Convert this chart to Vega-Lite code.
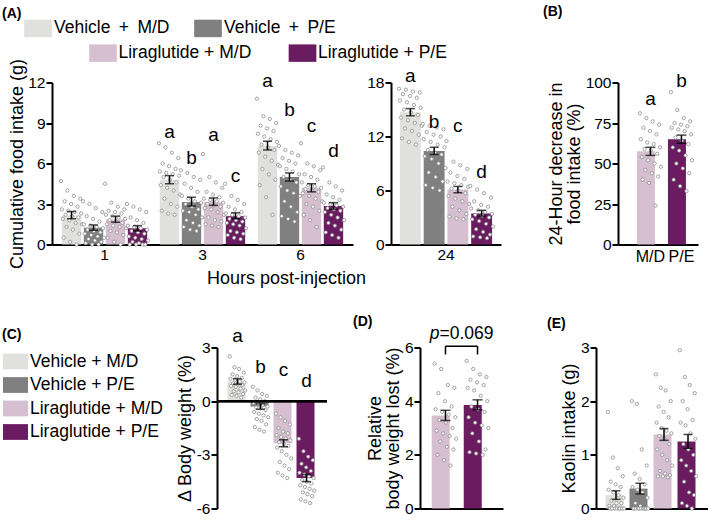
{
  "$schema": "https://vega.github.io/schema/vega-lite/v6.json",
  "padding": {"left": 2, "top": 4.5, "right": 0, "bottom": 0},
  "background": "white",
  "config": {
    "font": "Liberation Sans",
    "view": {"stroke": null},
    "axis": {"domainColor": "black", "domainWidth": 2, "tickColor": "black", "tickWidth": 2, "tickSize": 6, "labelFontSize": 15.5, "labelColor": "black", "labelPadding": 1, "titleFontSize": 18, "titleFontWeight": "normal", "titleColor": "black", "grid": false},
    "axisX": {"ticks": false, "labelAngle": 0, "labelPadding": 3},
    "legend": {"labelFontSize": 17.5, "labelColor": "black", "symbolStrokeWidth": 0, "padding": 0, "symbolOpacity": 1, "symbolType": "M-1,-0.63H1V0.63H-1Z", "title": null},
    "title": {"fontSize": 14, "fontWeight": "bold", "anchor": "start", "frame": "group", "color": "black"}
  },
  "datasets": {
    "a1": [
      {"h": "1", "g": "Vehicle + M/D", "m": 2.15, "lo": 1.9, "hi": 2.45, "lab": "", "ly": 0, "v": [4.7,2.6,1.9,0.5,3.2,2.2,1.3,4.0,2.5,1.8,0.2,3.0,2.1,1.1,3.6,2.4,1.6,0,2.8,2.0,0.8,3.4,2.3,1.5]},
      {"h": "1", "g": "Vehicle + P/E", "m": 1.25, "lo": 1.05, "hi": 1.45, "lab": "", "ly": 0, "v": [3.2,1.5,0.8,0.1,2.1,1.1,0.4,3.0,1.4,0.7,0,1.9,1.0,0.3,2.7,1.3,0.6,0,1.7,0.9,0.2,2.4,1.2,0.5]},
      {"h": "1", "g": "Liraglutide + M/D", "m": 1.85, "lo": 1.65, "hi": 2.1, "lab": "", "ly": 0, "v": [4.5,2.2,1.5,0.5,2.5,1.8,1.0,3.1,2.1,1.4,0.2,2.4,1.7,0.9,2.8,2.0,1.3,0,2.3,1.6,0.7,2.6,1.9,1.2]},
      {"h": "1", "g": "Liraglutide + P/E", "m": 1.2, "lo": 1.0, "hi": 1.4, "lab": "", "ly": 0, "v": [3.0,1.4,0.6,0,2.0,1.0,0.2,2.8,1.3,0.5,0,1.8,0.9,0.1,2.6,1.2,0.4,0,1.6,0.8,0,2.4,1.1,0.3]},
      {"h": "3", "g": "Vehicle + M/D", "m": 4.8, "lo": 4.5, "hi": 5.1, "lab": "a", "ly": 7.9, "v": [7.5,5.4,4.4,2.5,6.0,5.0,3.4,7.2,5.3,4.2,2.3,5.8,4.8,3.0,6.8,5.2,4.0,2.2,5.6,4.6,2.8,6.4,5.1,3.7]},
      {"h": "3", "g": "Vehicle + P/E", "m": 3.15, "lo": 2.85, "hi": 3.5, "lab": "b", "ly": 6.0, "v": [5.5,3.6,2.5,1.3,4.5,3.0,1.8,5.3,3.4,2.4,1.1,4.2,2.8,1.6,5.0,3.2,2.2,1.0,3.9,2.6,1.4,4.8,3.1,2.0]},
      {"h": "3", "g": "Liraglutide + M/D", "m": 3.15, "lo": 2.9, "hi": 3.45, "lab": "a", "ly": 7.7, "v": [6.7,3.4,2.7,1.5,3.9,3.0,2.0,5.0,3.3,2.6,1.4,3.7,2.9,1.8,4.6,3.2,2.4,1.3,3.5,2.8,1.7,4.2,3.1,2.2]},
      {"h": "3", "g": "Liraglutide + P/E", "m": 2.1, "lo": 1.9, "hi": 2.35, "lab": "c", "ly": 4.6, "v": [4.5,2.3,1.6,0.7,2.8,1.9,1.0,3.6,2.2,1.5,0.5,2.6,1.8,0.9,3.3,2.1,1.4,0.4,2.4,1.7,0.8,3.0,2.0,1.2]},
      {"h": "6", "g": "Vehicle + M/D", "m": 7.3, "lo": 7.0, "hi": 7.65, "lab": "a", "ly": 11.7, "v": [10.8,8.2,6.8,4.4,8.8,7.4,5.6,9.5,8.0,6.5,3.5,8.6,7.2,5.2,9.3,7.8,6.2,2.2,8.4,7.0,4.8,9.0,7.6,5.9]},
      {"h": "6", "g": "Vehicle + P/E", "m": 5.0, "lo": 4.7, "hi": 5.3, "lab": "b", "ly": 9.55, "v": [7.3,5.8,4.3,2.1,6.4,5.0,3.2,7.0,5.6,4.0,1.9,6.2,4.8,2.8,6.8,5.4,3.8,1.7,6.0,4.6,2.4,6.6,5.2,3.6]},
      {"h": "6", "g": "Liraglutide + M/D", "m": 4.2, "lo": 3.9, "hi": 4.5, "lab": "c", "ly": 8.3, "v": [7.5,4.6,3.8,2.2,5.2,4.1,3.0,6.0,4.4,3.6,1.8,5.0,4.0,2.8,5.8,4.3,3.4,1.3,4.8,3.9,2.5,5.5,4.2,3.2]},
      {"h": "6", "g": "Liraglutide + P/E", "m": 2.85, "lo": 2.6, "hi": 3.1, "lab": "d", "ly": 6.45, "v": [5.7,3.1,2.4,0.9,3.7,2.7,1.6,4.6,3.0,2.2,0.7,3.5,2.6,1.4,4.3,2.9,2.0,0.5,3.3,2.5,1.1,4.0,2.8,1.8]}
    ],
    "a24": [
      {"h": "24", "g": "Vehicle + M/D", "m": 14.7, "lo": 14.3, "hi": 15.1, "lab": "a", "ly": 18.1, "v": [17.3,16.0,14.1,11.8,16.7,15.0,12.9,17.2,15.8,13.8,11.4,16.5,14.7,12.6,17.0,15.5,13.5,11.1,16.3,14.4,12.2,16.9,15.2,13.2]},
      {"h": "24", "g": "Vehicle + P/E", "m": 10.4, "lo": 10.0, "hi": 10.8, "lab": "b", "ly": 13.0, "v": [13.4,11.7,9.8,6.6,12.5,10.5,8.0,13.2,11.4,9.5,6.3,12.2,10.2,7.5,13.0,11.1,9.0,6.0,12.0,10.0,7.0,12.8,10.8,8.5]},
      {"h": "24", "g": "Liraglutide + M/D", "m": 6.1, "lo": 5.75, "hi": 6.45, "lab": "c", "ly": 12.5, "v": [11.5,7.0,5.4,3.1,8.0,6.2,4.2,9.2,6.8,5.1,2.9,7.6,6.0,3.8,8.8,6.6,4.8,2.8,7.3,5.7,3.4,8.4,6.4,4.5]},
      {"h": "24", "g": "Liraglutide + P/E", "m": 3.45, "lo": 3.15, "hi": 3.8, "lab": "d", "ly": 7.4, "v": [6.5,4.0,2.8,0.9,4.8,3.3,1.7,6.1,3.8,2.6,0.8,4.4,3.2,1.4,5.7,3.6,2.3,0.7,4.2,3.0,1.1,5.2,3.4,2.0]}
    ],
    "b": [
      {"g": "Liraglutide + M/D", "m": 57.5, "lo": 55, "hi": 60, "lab": "a", "ly": 86, "v": [81,65,54,40,72,59,46,78,63,52,38,70,58,44,76,62,50,24,68,56,42,74,60,48]},
      {"g": "Liraglutide + P/E", "m": 65, "lo": 62.5, "hi": 67.5, "lab": "b", "ly": 97, "v": [94,72,60,40,75,66,50,83,71,58,36,74,64,47,78,70,55,33,73,62,44,76,68,52]}
    ],
    "c": [
      {"g": "Vehicle + M/D", "m": 1.1, "lo": 0.95, "hi": 1.25, "lab": "a", "ly": 3.3, "v": [2.5,1.25,0.85,0.35,1.5,1.0,0.55,1.9,1.2,0.8,0.3,1.4,0.95,0.5,1.8,1.1,0.7,0.2,1.3,0.9,0.4,1.6,1.05,0.6]},
      {"g": "Vehicle + P/E", "m": -0.3, "lo": -0.45, "hi": -0.15, "lab": "b", "ly": 1.6, "v": [0.8,-0.1,-0.6,-1.45,0.2,-0.35,-1.0,0.6,-0.15,-0.7,-1.6,0.1,-0.4,-1.1,0.4,-0.2,-0.8,-1.7,0,-0.5,-1.3,0.3,-0.3,-0.9]},
      {"g": "Liraglutide + M/D", "m": -2.35, "lo": -2.55, "hi": -2.15, "lab": "c", "ly": 1.4, "v": [-0.7,-1.9,-2.6,-4.0,-1.5,-2.3,-3.4,-0.9,-2.0,-2.8,-4.15,-1.7,-2.4,-3.6,-1.1,-2.1,-3.0,-4.3,-1.8,-2.5,-3.8,-1.3,-2.2,-3.2]},
      {"g": "Liraglutide + P/E", "m": -4.3, "lo": -4.5, "hi": -4.1, "lab": "d", "ly": 0.8, "v": [-2.1,-4.0,-4.7,-5.5,-3.5,-4.4,-5.1,-2.8,-4.1,-4.8,-5.6,-3.7,-4.5,-5.2,-3.1,-4.2,-4.9,-5.7,-3.9,-4.6,-5.3,-3.3,-4.3,-5.0]}
    ],
    "d": [
      {"g": "Liraglutide + M/D", "m": 3.47, "lo": 3.28, "hi": 3.66, "v": [5.4,3.7,2.9,2.0,4.3,3.3,2.5,5.2,3.6,2.8,1.8,4.0,3.2,2.3,4.6,3.5,2.7,1.6,3.8,3.0,2.2,4.5,3.4,2.6]},
      {"g": "Liraglutide + P/E", "m": 3.86, "lo": 3.68, "hi": 4.05, "v": [5.5,4.5,3.4,2.1,4.8,3.8,2.8,5.2,4.4,3.2,2.05,4.7,3.7,2.5,5.0,4.2,3.1,2.0,4.6,3.6,2.2,4.9,4.0,3.0]}
    ],
    "dp": [
      {"g1": "Liraglutide + M/D", "g2": "Liraglutide + P/E", "p": "=0.069"}
    ],
    "e": [
      {"g": "Vehicle + M/D", "m": 0.25, "lo": 0.17, "hi": 0.33, "v": [1.8,0.35,0.05,0,0.5,0.15,0,0.95,0.3,0.05,0,0.45,0.1,0,0.75,0.25,0,0,0.4,0.1,0,0.6,0.2,0]},
      {"g": "Vehicle + P/E", "m": 0.37, "lo": 0.27, "hi": 0.47, "v": [2.0,0.4,0,0,0.65,0.1,0,1.95,0.35,0,0,0.55,0.05,0,1.1,0.3,0,0,0.45,0,0,0.8,0.2,0]},
      {"g": "Liraglutide + M/D", "m": 1.38, "lo": 1.27, "hi": 1.49, "v": [2.5,1.6,1.1,0.6,1.9,1.35,0.7,2.25,1.5,1.0,0.6,1.8,1.3,0.65,2.2,1.45,0.9,0.58,1.7,1.2,0.62,2.0,1.4,0.8]},
      {"g": "Liraglutide + P/E", "m": 1.25, "lo": 1.12, "hi": 1.38, "v": [2.95,1.6,0.9,0.1,2.0,1.2,0.5,2.45,1.55,0.8,0.05,1.85,1.1,0.3,2.3,1.4,0.7,0,1.65,1.0,0.25,2.15,1.3,0.6]}
    ]
  },
  "resolve": {"scale": {"color": "independent", "xOffset": "independent"}, "legend": {"color": "independent"}},
  "spacing": 27,
  "vconcat": [
    {
      "hconcat": [
        {
          "width": 301, "height": 162,
          "data": {"name": "a1"},
          "title": {"text": "(A)", "dx": -50, "offset": -6.5},
          "resolve": {"scale": {"xOffset": "independent"}},
          "layer": [
            {
              "mark": {"type": "bar"},
              "encoding": {
                "x": {"field": "h", "type": "nominal", "scale": {"paddingInner": 0.102, "paddingOuter": 0.087}, "axis": {"title": "Hours post-injection", "titleX": 234, "titlePadding": 6}},
                "xOffset": {"field": "g", "type": "nominal", "sort": ["Vehicle + M/D", "Vehicle + P/E", "Liraglutide + M/D", "Liraglutide + P/E"], "scale": {"paddingInner": 0.12, "paddingOuter": 0.06}},
                "y": {"field": "m", "type": "quantitative", "scale": {"domain": [0, 12]}, "axis": {"values": [0, 3, 6, 9, 12], "title": "Cumulative food intake (g)", "titlePadding": 1}},
                "color": {"field": "g", "type": "nominal", "scale": {"domain": ["Vehicle + M/D", "Vehicle + P/E", "Liraglutide + M/D", "Liraglutide + P/E"], "range": ["#e0e0de", "#808080", "#d5bfd1", "#6b1c61"]},
                  "legend": {"values": ["Vehicle + M/D", "Vehicle + P/E"], "labelExpr": "replace(datum.label, ' + ', ' \u2009+\u2009 ')", "orient": "none", "legendX": -28, "legendY": -68.2, "direction": "horizontal", "columns": 2, "columnPadding": 24, "symbolSize": 767, "labelOffset": 2}}
              }
            },
            {
              "transform": [{"flatten": ["v"]}, {"window": [{"op": "row_number", "as": "i"}], "groupby": ["h"]}],
              "mark": {"type": "circle", "size": 11, "fill": "white", "stroke": "#808080", "strokeWidth": 0.7, "opacity": 1},
              "encoding": {
                "x": {"field": "h", "type": "nominal"},
                "xOffset": {"field": "i", "type": "quantitative", "scale": {"domain": [0.5, 96.5], "range": [0, 88]}},
                "y": {"field": "v", "type": "quantitative"}
              }
            },
            {
              "layer": [
                {
                  "mark": {"type": "rule", "strokeWidth": 1.5, "color": "black"},
                  "encoding": {
                    "x": {"field": "h", "type": "nominal"},
                    "xOffset": {"field": "g", "type": "nominal", "sort": ["Vehicle + M/D", "Vehicle + P/E", "Liraglutide + M/D", "Liraglutide + P/E"], "scale": {"paddingInner": 0.12, "paddingOuter": 0.06}},
                    "y": {"field": "lo", "type": "quantitative"},
                    "y2": {"field": "hi"}
                  }
                },
                {
                  "mark": {"type": "tick", "thickness": 1.5, "size": 9, "color": "black"},
                  "encoding": {
                    "x": {"field": "h", "type": "nominal"},
                    "xOffset": {"field": "g", "type": "nominal", "sort": ["Vehicle + M/D", "Vehicle + P/E", "Liraglutide + M/D", "Liraglutide + P/E"]},
                    "y": {"field": "lo", "type": "quantitative"}
                  }
                },
                {
                  "mark": {"type": "tick", "thickness": 1.5, "size": 9, "color": "black"},
                  "encoding": {
                    "x": {"field": "h", "type": "nominal"},
                    "xOffset": {"field": "g", "type": "nominal", "sort": ["Vehicle + M/D", "Vehicle + P/E", "Liraglutide + M/D", "Liraglutide + P/E"]},
                    "y": {"field": "hi", "type": "quantitative"}
                  }
                },
                {
                  "transform": [{"filter": "datum.lab != ''"}],
                  "mark": {"type": "text", "fontSize": 19, "baseline": "alphabetic", "color": "black"},
                  "encoding": {
                    "x": {"field": "h", "type": "nominal"},
                    "xOffset": {"field": "g", "type": "nominal", "sort": ["Vehicle + M/D", "Vehicle + P/E", "Liraglutide + M/D", "Liraglutide + P/E"]},
                    "y": {"field": "ly", "type": "quantitative"},
                    "text": {"field": "lab"}
                  }
                }
              ]
            }
          ]
        },
        {
          "width": 110, "height": 162,
          "data": {"name": "a24"},
          "resolve": {"scale": {"xOffset": "independent"}},
          "layer": [
            {
              "mark": {"type": "bar"},
              "encoding": {
                "x": {"field": "h", "type": "nominal", "scale": {"paddingInner": 0, "paddingOuter": 0.079}, "axis": {"title": null}},
                "xOffset": {"field": "g", "type": "nominal", "sort": ["Vehicle + M/D", "Vehicle + P/E", "Liraglutide + M/D", "Liraglutide + P/E"], "scale": {"paddingInner": 0.12, "paddingOuter": 0.06}},
                "y": {"field": "m", "type": "quantitative", "scale": {"domain": [0, 18]}, "axis": {"values": [0, 6, 12, 18], "title": null}},
                "color": {"field": "g", "type": "nominal", "scale": {"domain": ["Vehicle + M/D", "Vehicle + P/E", "Liraglutide + M/D", "Liraglutide + P/E"], "range": ["#e0e0de", "#808080", "#d5bfd1", "#6b1c61"]},
                  "legend": {"values": ["Liraglutide + M/D", "Liraglutide + P/E"], "orient": "none", "legendX": -302, "legendY": -43.5, "direction": "horizontal", "columns": 2, "columnPadding": 36.5, "symbolSize": 767, "labelOffset": 1.5}}
              }
            },
            {
              "transform": [{"flatten": ["v"]}, {"window": [{"op": "row_number", "as": "i"}], "groupby": ["h"]}],
              "mark": {"type": "circle", "size": 11, "fill": "white", "stroke": "#808080", "strokeWidth": 0.7, "opacity": 1},
              "encoding": {
                "x": {"field": "h", "type": "nominal"},
                "xOffset": {"field": "i", "type": "quantitative", "scale": {"domain": [0.5, 96.5], "range": [0, 95]}},
                "y": {"field": "v", "type": "quantitative"}
              }
            },
            {
              "layer": [
                {
                  "mark": {"type": "rule", "strokeWidth": 1.5, "color": "black"},
                  "encoding": {
                    "x": {"field": "h", "type": "nominal"},
                    "xOffset": {"field": "g", "type": "nominal", "sort": ["Vehicle + M/D", "Vehicle + P/E", "Liraglutide + M/D", "Liraglutide + P/E"], "scale": {"paddingInner": 0.12, "paddingOuter": 0.06}},
                    "y": {"field": "lo", "type": "quantitative"},
                    "y2": {"field": "hi"}
                  }
                },
                {
                  "mark": {"type": "tick", "thickness": 1.5, "size": 9, "color": "black"},
                  "encoding": {
                    "x": {"field": "h", "type": "nominal"},
                    "xOffset": {"field": "g", "type": "nominal", "sort": ["Vehicle + M/D", "Vehicle + P/E", "Liraglutide + M/D", "Liraglutide + P/E"]},
                    "y": {"field": "lo", "type": "quantitative"}
                  }
                },
                {
                  "mark": {"type": "tick", "thickness": 1.5, "size": 9, "color": "black"},
                  "encoding": {
                    "x": {"field": "h", "type": "nominal"},
                    "xOffset": {"field": "g", "type": "nominal", "sort": ["Vehicle + M/D", "Vehicle + P/E", "Liraglutide + M/D", "Liraglutide + P/E"]},
                    "y": {"field": "hi", "type": "quantitative"}
                  }
                },
                {
                  "mark": {"type": "text", "fontSize": 19, "baseline": "alphabetic", "color": "black"},
                  "encoding": {
                    "x": {"field": "h", "type": "nominal"},
                    "xOffset": {"field": "g", "type": "nominal", "sort": ["Vehicle + M/D", "Vehicle + P/E", "Liraglutide + M/D", "Liraglutide + P/E"]},
                    "y": {"field": "ly", "type": "quantitative"},
                    "text": {"field": "lab"}
                  }
                }
              ]
            }
          ]
        },
        {
          "width": 41, "height": 162,
          "data": {"values": [{}]},
          "mark": {"type": "text"},
          "encoding": {"text": {"value": ""}}
        },
        {
          "width": 80, "height": 162,
          "data": {"name": "b"},
          "title": {"text": "(B)", "dx": -75, "offset": 53},
          "layer": [
            {
              "mark": {"type": "bar"},
              "encoding": {
                "x": {"field": "g", "type": "nominal", "sort": ["Liraglutide + M/D", "Liraglutide + P/E"], "scale": {"paddingInner": 0.13, "paddingOuter": 0.355, "align": 0.86}, "axis": {"title": null, "labelExpr": "split(datum.label, ' + ')[1]", "labelPadding": 4, "labelFontSize": 16}},
                "y": {"field": "m", "type": "quantitative", "scale": {"domain": [0, 100]}, "axis": {"values": [0, 25, 50, 75, 100], "title": ["24-Hour decrease in", "food intake (%)"], "titleLineHeight": 18, "titlePadding": 2}},
                "color": {"field": "g", "type": "nominal", "scale": {"domain": ["Vehicle + M/D", "Vehicle + P/E", "Liraglutide + M/D", "Liraglutide + P/E"], "range": ["#e0e0de", "#808080", "#d5bfd1", "#6b1c61"]}, "legend": null}
              }
            },
            {
              "transform": [{"flatten": ["v"]}, {"window": [{"op": "row_number", "as": "i"}], "groupby": ["g"]}],
              "mark": {"type": "circle", "size": 11, "fill": "white", "stroke": "#808080", "strokeWidth": 0.7, "opacity": 1},
              "encoding": {
                "x": {"field": "g", "type": "nominal", "sort": ["Liraglutide + M/D", "Liraglutide + P/E"]},
                "xOffset": {"field": "i", "type": "quantitative", "scale": {"domain": [0.5, 24.5], "range": [2.5, 24.5]}},
                "y": {"field": "v", "type": "quantitative"}
              }
            },
            {
              "mark": {"type": "rule", "strokeWidth": 1.5, "color": "black"},
              "encoding": {
                "x": {"field": "g", "type": "nominal", "sort": ["Liraglutide + M/D", "Liraglutide + P/E"]},
                "y": {"field": "lo", "type": "quantitative"},
                "y2": {"field": "hi"}
              }
            },
            {
              "mark": {"type": "tick", "thickness": 1.5, "size": 10, "color": "black"},
              "encoding": {
                "x": {"field": "g", "type": "nominal", "sort": ["Liraglutide + M/D", "Liraglutide + P/E"]},
                "y": {"field": "lo", "type": "quantitative"}
              }
            },
            {
              "mark": {"type": "tick", "thickness": 1.5, "size": 10, "color": "black"},
              "encoding": {
                "x": {"field": "g", "type": "nominal", "sort": ["Liraglutide + M/D", "Liraglutide + P/E"]},
                "y": {"field": "hi", "type": "quantitative"}
              }
            },
            {
              "mark": {"type": "text", "fontSize": 19, "baseline": "alphabetic", "color": "black"},
              "encoding": {
                "x": {"field": "g", "type": "nominal", "sort": ["Liraglutide + M/D", "Liraglutide + P/E"]},
                "y": {"field": "ly", "type": "quantitative"},
                "text": {"field": "lab"}
              }
            }
          ]
        }
      ],
      "spacing": 38,
      "bounds": "flush",
      "resolve": {"scale": {"color": "independent", "xOffset": "independent"}, "legend": {"color": "independent"}}
    },
    {
      "hconcat": [
        {
          "width": 72, "height": 161,
          "data": {"values": [{}]},
          "mark": {"type": "text"},
          "encoding": {"text": {"value": ""}}
        },
        {
          "width": 110, "height": 161,
          "data": {"name": "c"},
          "title": {"text": "(C)", "dx": -215, "offset": -15},
          "layer": [
            {
              "mark": {"type": "bar"},
              "encoding": {
                "x": {"field": "g", "type": "nominal", "sort": ["Vehicle + M/D", "Vehicle + P/E", "Liraglutide + M/D", "Liraglutide + P/E"], "scale": {"paddingInner": 0.13, "paddingOuter": 0.455}, "axis": {"domain": false, "labels": false, "title": null}},
                "y": {"field": "m", "type": "quantitative", "scale": {"domain": [-6, 3]}, "axis": {"values": [-6, -3, 0, 3], "labelExpr": "replace(datum.label, '\u2212', '-')", "title": "\u0394 Body weight (%)", "titlePadding": 2}},
                "color": {"field": "g", "type": "nominal", "scale": {"domain": ["Vehicle + M/D", "Vehicle + P/E", "Liraglutide + M/D", "Liraglutide + P/E"], "range": ["#e0e0de", "#808080", "#d5bfd1", "#6b1c61"]},
                  "legend": {"orient": "none", "legendX": -214, "legendY": 1.5, "direction": "vertical", "symbolSize": 625, "labelOffset": 2, "rowPadding": 2.5}}
              }
            },
            {
              "transform": [{"flatten": ["v"]}, {"window": [{"op": "row_number", "as": "i"}], "groupby": ["g"]}],
              "mark": {"type": "circle", "size": 11, "fill": "white", "stroke": "#808080", "strokeWidth": 0.7, "opacity": 1},
              "encoding": {
                "x": {"field": "g", "type": "nominal", "sort": ["Vehicle + M/D", "Vehicle + P/E", "Liraglutide + M/D", "Liraglutide + P/E"]},
                "xOffset": {"field": "i", "type": "quantitative", "scale": {"domain": [0.5, 24.5], "range": [2, 18]}},
                "y": {"field": "v", "type": "quantitative"}
              }
            },
            {
              "mark": {"type": "rule", "strokeWidth": 2, "color": "black"},
              "encoding": {"y": {"datum": 0}}
            },
            {
              "mark": {"type": "rule", "strokeWidth": 1.5, "color": "black"},
              "encoding": {
                "x": {"field": "g", "type": "nominal", "sort": ["Vehicle + M/D", "Vehicle + P/E", "Liraglutide + M/D", "Liraglutide + P/E"]},
                "y": {"field": "lo", "type": "quantitative"},
                "y2": {"field": "hi"}
              }
            },
            {
              "mark": {"type": "tick", "thickness": 1.5, "size": 9, "color": "black"},
              "encoding": {
                "x": {"field": "g", "type": "nominal", "sort": ["Vehicle + M/D", "Vehicle + P/E", "Liraglutide + M/D", "Liraglutide + P/E"]},
                "y": {"field": "lo", "type": "quantitative"}
              }
            },
            {
              "mark": {"type": "tick", "thickness": 1.5, "size": 9, "color": "black"},
              "encoding": {
                "x": {"field": "g", "type": "nominal", "sort": ["Vehicle + M/D", "Vehicle + P/E", "Liraglutide + M/D", "Liraglutide + P/E"]},
                "y": {"field": "hi", "type": "quantitative"}
              }
            },
            {
              "mark": {"type": "text", "fontSize": 19, "baseline": "alphabetic", "color": "black"},
              "encoding": {
                "x": {"field": "g", "type": "nominal", "sort": ["Vehicle + M/D", "Vehicle + P/E", "Liraglutide + M/D", "Liraglutide + P/E"]},
                "y": {"field": "ly", "type": "quantitative"},
                "text": {"field": "lab"}
              }
            }
          ]
        },
        {
          "width": 83, "height": 161,
          "data": {"name": "d"},
          "title": {"text": "(D)", "dx": -67, "offset": -4},
          "layer": [
            {
              "mark": {"type": "bar"},
              "encoding": {
                "x": {"field": "g", "type": "nominal", "sort": ["Liraglutide + M/D", "Liraglutide + P/E"], "scale": {"paddingInner": 0.14, "paddingOuter": 0.365}, "axis": {"labels": false, "title": null}},
                "y": {"field": "m", "type": "quantitative", "scale": {"domain": [0, 6]}, "axis": {"values": [0, 2, 4, 6], "format": "d", "title": ["Relative", "body weight lost (%)"], "titleLineHeight": 18, "titlePadding": 2}},
                "color": {"field": "g", "type": "nominal", "scale": {"domain": ["Vehicle + M/D", "Vehicle + P/E", "Liraglutide + M/D", "Liraglutide + P/E"], "range": ["#e0e0de", "#808080", "#d5bfd1", "#6b1c61"]}, "legend": null}
              }
            },
            {
              "transform": [{"flatten": ["v"]}, {"window": [{"op": "row_number", "as": "i"}], "groupby": ["g"]}],
              "mark": {"type": "circle", "size": 11, "fill": "white", "stroke": "#808080", "strokeWidth": 0.7, "opacity": 1},
              "encoding": {
                "x": {"field": "g", "type": "nominal", "sort": ["Liraglutide + M/D", "Liraglutide + P/E"]},
                "xOffset": {"field": "i", "type": "quantitative", "scale": {"domain": [0.5, 24.5], "range": [2.5, 25]}},
                "y": {"field": "v", "type": "quantitative"}
              }
            },
            {
              "mark": {"type": "rule", "strokeWidth": 1.5, "color": "black"},
              "encoding": {
                "x": {"field": "g", "type": "nominal", "sort": ["Liraglutide + M/D", "Liraglutide + P/E"]},
                "y": {"field": "lo", "type": "quantitative"},
                "y2": {"field": "hi"}
              }
            },
            {
              "mark": {"type": "tick", "thickness": 1.5, "size": 10, "color": "black"},
              "encoding": {
                "x": {"field": "g", "type": "nominal", "sort": ["Liraglutide + M/D", "Liraglutide + P/E"]},
                "y": {"field": "lo", "type": "quantitative"}
              }
            },
            {
              "mark": {"type": "tick", "thickness": 1.5, "size": 10, "color": "black"},
              "encoding": {
                "x": {"field": "g", "type": "nominal", "sort": ["Liraglutide + M/D", "Liraglutide + P/E"]},
                "y": {"field": "hi", "type": "quantitative"}
              }
            },
            {
              "data": {"name": "dp"},
              "mark": {"type": "rule", "strokeWidth": 1.5, "color": "black"},
              "encoding": {
                "x": {"field": "g1", "type": "nominal"},
                "x2": {"field": "g2"},
                "y": {"datum": 6.05}
              }
            },
            {
              "data": {"name": "dp"},
              "mark": {"type": "rule", "strokeWidth": 1.5, "color": "black"},
              "encoding": {
                "x": {"field": "g1", "type": "nominal"},
                "y": {"datum": 5.74},
                "y2": {"datum": 6.05}
              }
            },
            {
              "data": {"name": "dp"},
              "mark": {"type": "rule", "strokeWidth": 1.5, "color": "black"},
              "encoding": {
                "x": {"field": "g2", "type": "nominal"},
                "y": {"datum": 5.74},
                "y2": {"datum": 6.05}
              }
            },
            {
              "data": {"name": "dp"},
              "mark": {"type": "text", "text": "p", "fontStyle": "italic", "fontSize": 17.5, "align": "right", "baseline": "alphabetic", "dx": -6, "color": "black"},
              "encoding": {
                "x": {"field": "g1", "type": "nominal"},
                "y": {"datum": 6.3}
              }
            },
            {
              "data": {"name": "dp"},
              "mark": {"type": "text", "fontSize": 17.5, "align": "left", "baseline": "alphabetic", "dx": -6, "color": "black"},
              "encoding": {
                "x": {"field": "g1", "type": "nominal"},
                "y": {"datum": 6.3},
                "text": {"field": "p"}
              }
            }
          ]
        },
        {
          "width": 112, "height": 161,
          "data": {"name": "e"},
          "title": {"text": "(E)", "dx": -49, "offset": 10},
          "layer": [
            {
              "mark": {"type": "bar"},
              "encoding": {
                "x": {"field": "g", "type": "nominal", "sort": ["Vehicle + M/D", "Vehicle + P/E", "Liraglutide + M/D", "Liraglutide + P/E"], "scale": {"paddingInner": 0.125, "paddingOuter": 0.396}, "axis": {"labels": false, "title": null}},
                "y": {"field": "m", "type": "quantitative", "scale": {"domain": [0, 3]}, "axis": {"values": [0, 1, 2, 3], "format": "d", "title": "Kaolin intake (g)", "titlePadding": 2}},
                "color": {"field": "g", "type": "nominal", "scale": {"domain": ["Vehicle + M/D", "Vehicle + P/E", "Liraglutide + M/D", "Liraglutide + P/E"], "range": ["#e0e0de", "#808080", "#d5bfd1", "#6b1c61"]}, "legend": null}
              }
            },
            {
              "transform": [{"flatten": ["v"]}, {"window": [{"op": "row_number", "as": "i"}], "groupby": ["g"]}],
              "mark": {"type": "circle", "size": 11, "fill": "white", "stroke": "#808080", "strokeWidth": 0.7, "opacity": 1},
              "encoding": {
                "x": {"field": "g", "type": "nominal", "sort": ["Vehicle + M/D", "Vehicle + P/E", "Liraglutide + M/D", "Liraglutide + P/E"]},
                "xOffset": {"field": "i", "type": "quantitative", "scale": {"domain": [0.5, 24.5], "range": [2, 19]}},
                "y": {"field": "v", "type": "quantitative"}
              }
            },
            {
              "mark": {"type": "rule", "strokeWidth": 1.5, "color": "black"},
              "encoding": {
                "x": {"field": "g", "type": "nominal", "sort": ["Vehicle + M/D", "Vehicle + P/E", "Liraglutide + M/D", "Liraglutide + P/E"]},
                "y": {"field": "lo", "type": "quantitative"},
                "y2": {"field": "hi"}
              }
            },
            {
              "mark": {"type": "tick", "thickness": 1.5, "size": 9, "color": "black"},
              "encoding": {
                "x": {"field": "g", "type": "nominal", "sort": ["Vehicle + M/D", "Vehicle + P/E", "Liraglutide + M/D", "Liraglutide + P/E"]},
                "y": {"field": "lo", "type": "quantitative"}
              }
            },
            {
              "mark": {"type": "tick", "thickness": 1.5, "size": 9, "color": "black"},
              "encoding": {
                "x": {"field": "g", "type": "nominal", "sort": ["Vehicle + M/D", "Vehicle + P/E", "Liraglutide + M/D", "Liraglutide + P/E"]},
                "y": {"field": "hi", "type": "quantitative"}
              }
            }
          ]
        }
      ],
      "spacing": 93,
      "bounds": "flush",
      "resolve": {"scale": {"color": "independent", "xOffset": "independent"}, "legend": {"color": "independent"}}
    }
  ]
}
